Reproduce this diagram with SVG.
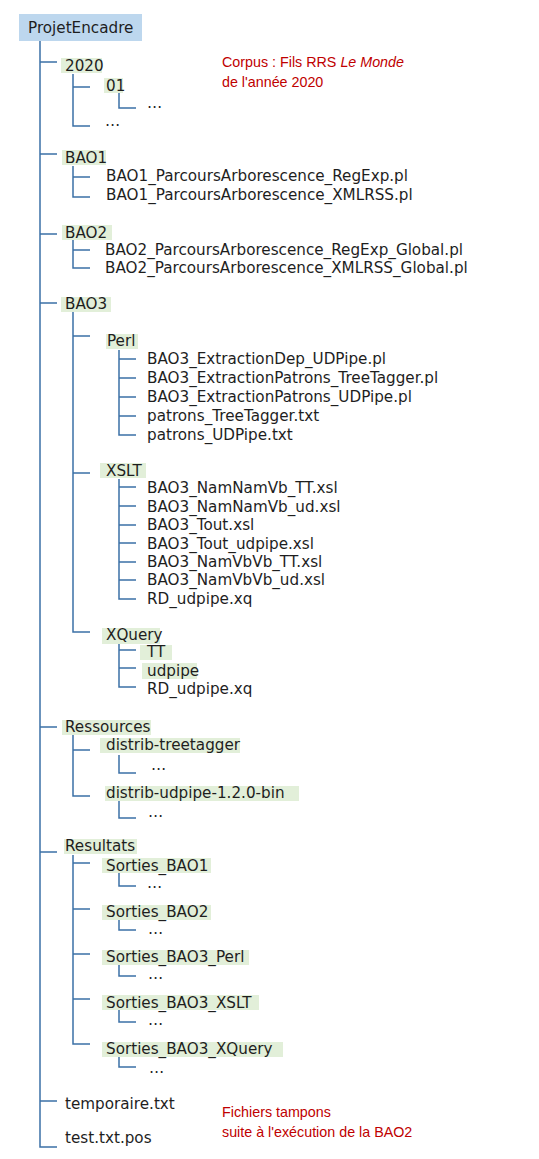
<svg xmlns="http://www.w3.org/2000/svg" width="539" height="1159" viewBox="0 0 539 1159">
<style>
.t{font-family:"DejaVu Sans",Verdana,sans-serif;font-size:15.2px;fill:#1e1e1e}
.r{font-family:"Liberation Sans",Arial,sans-serif;font-size:14.3px;fill:#c00000}
.h{fill:#e2efd9}
.c{fill:none;stroke:#3b70a6;stroke-width:1.5}
</style>
<rect width="539" height="1159" fill="#ffffff"/>
<g id="connectors" class="c">
<path d="M40,41V1147H57M40,62H57M40,154H57M40,234H57M40,303H57M40,727H57M40,852H57M40,1101H57"/>
<path d="M73,74V126H90M73,87H90M119,93V108H136"/>
<path d="M73,166V197H90M73,177H90"/>
<path d="M73,240V268H90M73,250H90"/>
<path d="M73,312V632H90M73,336H90M73,473H90"/>
<path d="M119,350V435H136M119,359H136M119,378H136M119,397H136M119,416H136"/>
<path d="M119,479V599H136M119,487H136M119,506H136M119,525H136M119,543H136M119,562H136M119,580H136"/>
<path d="M119,644V687H136M119,650H136M119,668H136"/>
<path d="M73,734V796H90M73,750H90M119,755V773H136M119,801V818H136"/>
<path d="M73,855V1044H90M73,863H90M73,909H90M73,954H90M73,999H90"/>
<path d="M119,873V886H136M119,920V930H136M119,965V976H136M119,1010V1022H136M119,1057V1067H136"/>
</g>
<g id="root"><rect x="19" y="14" width="123" height="27" fill="#bdd7ee"/><text class="t" x="28" y="33">ProjetEncadre</text></g>
<g id="n2020"><rect class="h" x="61" y="58" width="41" height="15"/><text class="t" x="65" y="71">2020</text></g>
<g id="n01"><rect class="h" x="104" y="78" width="19" height="15"/><text class="t" x="106" y="91">01</text></g>
<g id="n01dots"><text class="t" x="147" y="108">…</text></g>
<g id="n2020dots"><text class="t" x="105" y="126">…</text></g>
<g id="bao1"><rect class="h" x="62" y="150" width="44" height="15"/><text class="t" x="65" y="163">BAO1</text></g>
<g id="bao1a"><text class="t" x="106" y="181">BAO1_ParcoursArborescence_RegExp.pl</text></g>
<g id="bao1b"><text class="t" x="106" y="200">BAO1_ParcoursArborescence_XMLRSS.pl</text></g>
<g id="bao2"><rect class="h" x="62" y="225" width="50" height="15"/><text class="t" x="65" y="238">BAO2</text></g>
<g id="bao2a"><text class="t" x="105" y="255">BAO2_ParcoursArborescence_RegExp_Global.pl</text></g>
<g id="bao2b"><text class="t" x="105" y="273">BAO2_ParcoursArborescence_XMLRSS_Global.pl</text></g>
<g id="bao3"><rect class="h" x="61" y="297" width="50" height="15"/><text class="t" x="65" y="309">BAO3</text></g>
<g id="perl"><rect class="h" x="106" y="334" width="32" height="15"/><text class="t" x="107" y="346">Perl</text></g>
<g id="perl1"><text class="t" x="147" y="364">BAO3_ExtractionDep_UDPipe.pl</text></g>
<g id="perl2"><text class="t" x="147" y="383">BAO3_ExtractionPatrons_TreeTagger.pl</text></g>
<g id="perl3"><text class="t" x="147" y="402">BAO3_ExtractionPatrons_UDPipe.pl</text></g>
<g id="perl4"><text class="t" x="147" y="421">patrons_TreeTagger.txt</text></g>
<g id="perl5"><text class="t" x="147" y="440">patrons_UDPipe.txt</text></g>
<g id="xslt"><rect class="h" x="100" y="463" width="46" height="15"/><text class="t" x="106" y="476">XSLT</text></g>
<g id="xslt1"><text class="t" x="147" y="493">BAO3_NamNamVb_TT.xsl</text></g>
<g id="xslt2"><text class="t" x="147" y="512">BAO3_NamNamVb_ud.xsl</text></g>
<g id="xslt3"><text class="t" x="147" y="530">BAO3_Tout.xsl</text></g>
<g id="xslt4"><text class="t" x="147" y="549">BAO3_Tout_udpipe.xsl</text></g>
<g id="xslt5"><text class="t" x="147" y="567">BAO3_NamVbVb_TT.xsl</text></g>
<g id="xslt6"><text class="t" x="147" y="585">BAO3_NamVbVb_ud.xsl</text></g>
<g id="xslt7"><text class="t" x="147" y="604">RD_udpipe.xq</text></g>
<g id="xquery"><rect class="h" x="102" y="628" width="58" height="16"/><text class="t" x="106" y="640">XQuery</text></g>
<g id="xq1"><rect class="h" x="140" y="645" width="32" height="15"/><text class="t" x="147" y="657">TT</text></g>
<g id="xq2"><rect class="h" x="142" y="663" width="55" height="16"/><text class="t" x="147" y="676">udpipe</text></g>
<g id="xq3"><text class="t" x="147" y="694">RD_udpipe.xq</text></g>
<g id="ressources"><rect class="h" x="62" y="720" width="89" height="15"/><text class="t" x="65" y="732">Ressources</text></g>
<g id="treetagger"><rect class="h" x="100" y="738" width="140" height="15"/><text class="t" x="106" y="750">distrib-treetagger</text></g>
<g id="treetaggerdots"><text class="t" x="151" y="770">…</text></g>
<g id="udpipe"><rect class="h" x="105" y="786" width="194" height="15"/><text class="t" x="106" y="798">distrib-udpipe-1.2.0-bin</text></g>
<g id="udpipedots"><text class="t" x="148" y="817">…</text></g>
<g id="resultats"><rect class="h" x="64" y="839" width="73" height="15"/><text class="t" x="65" y="851">Resultats</text></g>
<g id="s1"><rect class="h" x="102" y="858" width="109" height="15"/><text class="t" x="106" y="871">Sorties_BAO1</text></g>
<g id="s1dots"><text class="t" x="147" y="888">…</text></g>
<g id="s2"><rect class="h" x="102" y="905" width="109" height="15"/><text class="t" x="106" y="917">Sorties_BAO2</text></g>
<g id="s2dots"><text class="t" x="148" y="934">…</text></g>
<g id="s3"><rect class="h" x="102" y="950" width="147" height="15"/><text class="t" x="106" y="962">Sorties_BAO3_Perl</text></g>
<g id="s3dots"><text class="t" x="148" y="979">…</text></g>
<g id="s4"><rect class="h" x="102" y="995" width="157" height="15"/><text class="t" x="106" y="1008">Sorties_BAO3_XSLT</text></g>
<g id="s4dots"><text class="t" x="148" y="1025">…</text></g>
<g id="s5"><rect class="h" x="102" y="1042" width="181" height="15"/><text class="t" x="106" y="1054">Sorties_BAO3_XQuery</text></g>
<g id="s5dots"><text class="t" x="149" y="1073">…</text></g>
<g id="temporaire"><text class="t" x="65" y="1109">temporaire.txt</text></g>
<g id="testpos"><text class="t" x="65" y="1143">test.txt.pos</text></g>
<g id="note1"><text class="r" x="222" y="67">Corpus : Fils RRS <tspan font-style="italic">Le Monde</tspan></text><text class="r" x="222" y="87">de l'année 2020</text></g>
<g id="note2"><text class="r" x="222" y="1117">Fichiers tampons</text><text class="r" x="222" y="1137">suite à l'exécution de la BAO2</text></g>
</svg>
